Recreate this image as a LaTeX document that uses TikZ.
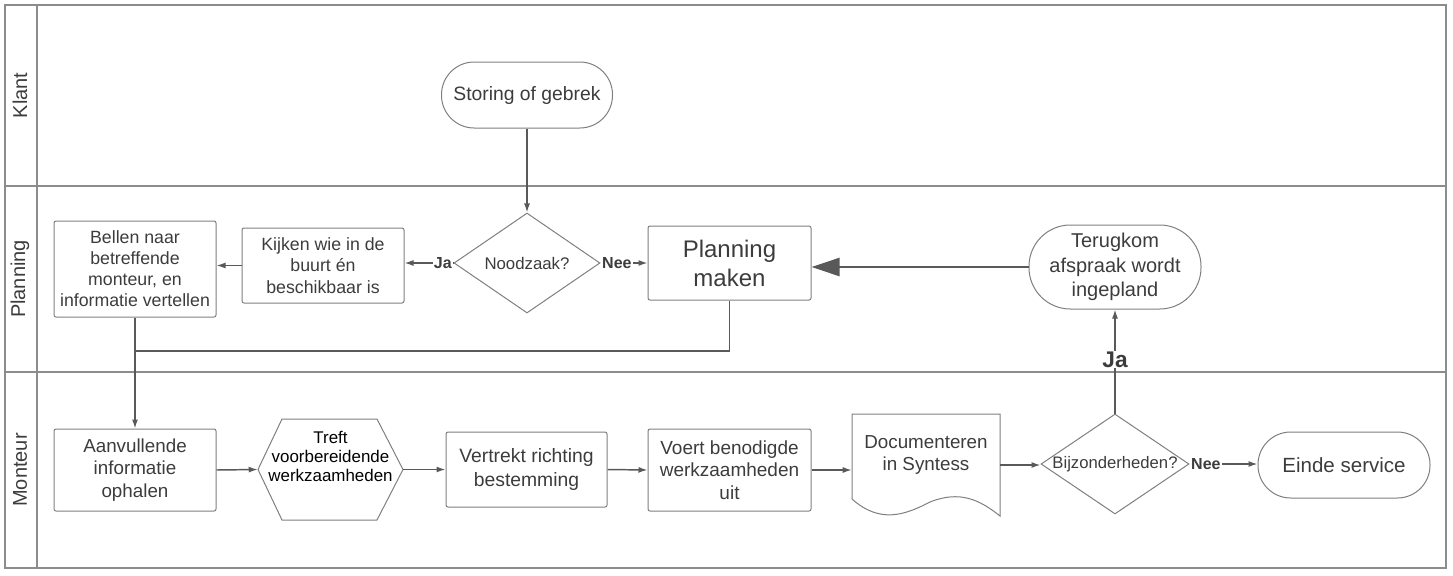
\documentclass[tikz,border=0pt]{standalone}
\usepackage{fontspec}
\setmainfont{Liberation Sans}
\usetikzlibrary{arrows.meta,shapes.geometric}
\definecolor{lanegray}{HTML}{8C8C8C}
\definecolor{shapegray}{HTML}{7F7F7F}
\definecolor{linegray}{HTML}{595959}
\definecolor{txtgray}{HTML}{3C3C3C}
\begin{document}
\begin{tikzpicture}[x=0.75pt,y=0.75pt,yscale=-1,xscale=1,
  lane/.style={draw=lanegray, line width=1pt},
  lanelbl/.style={rotate=90, text=txtgray, font=\fontsize{15}{18}\selectfont},
  box/.style={draw=shapegray, line width=0.75pt, rounded corners=1.5pt, text=txtgray, align=center, inner sep=0.75pt},
  stadium/.style={box, rounded corners=#1},
  decision/.style={diamond, draw=shapegray, line width=0.75pt, inner sep=0pt},
  conn/.style={draw=linegray, line width=1.1pt, -{Latex[length=6.75pt,width=4.5pt]}},
  bigconn/.style={draw=linegray, line width=1.9pt, -{Triangle[length=21pt,width=13.5pt]}},
  ja/.style={fill=white, inner sep=0.75pt, text=txtgray, font=\bfseries\fontsize{12}{14}\selectfont}
]
\useasboundingbox (0,0) rectangle (1453,575);

%Shape: Lanes
\draw[lane] (5,5) rectangle (1446,568);
\draw[lane] (37,5) -- (37,568);
\draw[lane] (5,186) -- (1446,186);
\draw[lane] (5,372) -- (1446,372);
% Text Node
\node[lanelbl] (klant) at (20,95.5) {Klant};
% Text Node
\node[lanelbl] (planninglane) at (20,279) {Planning};
% Text Node
\node[lanelbl] (monteur) at (20,470) {Monteur};

%Shape: Rounded Rect
\node[stadium=24.5pt, minimum width=128.25pt, minimum height=49.5pt, font=\fontsize{14.5}{17}\selectfont] (storing) at (527,95) {Storing of gebrek};
%Shape: Diamond
\node[decision, minimum width=109.5pt, minimum height=75pt, label={[text=txtgray, font=\fontsize{12.6}{15}\selectfont]center:Noodzaak?}] (noodzaak) at (527,263) {};
%Shape: Rectangle
\node[box, minimum width=121.5pt, minimum height=56.25pt, font=\fontsize{13.3}{16.2}\selectfont] (kijken) at (323,265.5) {Kijken wie in de\\buurt én\\beschikbaar is};
%Shape: Rectangle
\node[box, minimum width=121.5pt, minimum height=72pt, font=\fontsize{13.3}{15.8}\selectfont] (bellen) at (135,269) {Bellen naar\\betreffende\\monteur, en\\informatie vertellen};
%Shape: Rectangle
\node[box, minimum width=122.25pt, minimum height=55.5pt, font=\fontsize{18}{21.75}\selectfont] (planning) at (729.5,263) {Planning\\maken};
%Shape: Rounded Rect
\node[stadium=31pt, minimum width=129pt, minimum height=63pt, font=\fontsize{15}{18.4}\selectfont] (terug) at (1115,267) {Terugkom\\afspraak wordt\\ingepland};

%Shape: Rectangle
\node[box, minimum width=121.5pt, minimum height=61.5pt, font=\fontsize{14.1}{16.9}\selectfont] (aanv) at (135,470) {Aanvullende\\informatie\\ophalen};
%Shape: Hexagon
\draw[draw=shapegray, line width=0.75pt] (258,469.5) -- (282,419) -- (377,419) -- (403,469.5) -- (377,520) -- (282,520) -- cycle;
\node[minimum width=108.75pt, minimum height=75.75pt, inner sep=0pt] (treft) at (330.5,469.5) {};
% Text Node
\node[align=center, text=black, inner sep=0.75pt, font=\fontsize{12.7}{14.25}\selectfont] (treftlbl) at (330.5,456) {Treft\\voorbereidende\\werkzaamheden};
%Shape: Rectangle
\node[box, minimum width=120.75pt, minimum height=56.25pt, font=\fontsize{14.5}{18}\selectfont] (vertrekt) at (526.5,469.5) {Vertrekt richting\\bestemming};
%Shape: Rectangle
\node[box, minimum width=122.25pt, minimum height=61.5pt, font=\fontsize{14.25}{16.9}\selectfont] (voert) at (729.5,470) {Voert benodigde\\werkzaamheden\\uit};
%Shape: Document
\draw[draw=shapegray, line width=0.75pt] (852,414) -- (1000,414) -- (1000,516) .. controls (980,500) and (960,490) .. (930,502) .. controls (905,515) and (880,524) .. (852,499) -- cycle;
\node[minimum width=111pt, minimum height=76.5pt, inner sep=0pt] (doc) at (926,465) {};
% Text Node
\node[align=center, text=txtgray, inner sep=0.75pt, font=\fontsize{14.1}{17}\selectfont] (doclbl) at (926,455) {Documenteren\\in Syntess};
%Shape: Diamond
\node[decision, minimum width=111pt, minimum height=75pt, label={[text=txtgray, font=\fontsize{12.5}{15}\selectfont]center:Bijzonderheden?}] (bij) at (1115,464) {};
%Shape: Rounded Rect
\node[stadium=24.5pt, minimum width=129pt, minimum height=49.5pt, font=\fontsize{15.4}{18}\selectfont] (einde) at (1344,465) {Einde service};

%Straight Lines
\draw[conn] (storing) -- (noodzaak);
\draw[conn] (noodzaak.west) -- (noodzaak.west -| kijken.east) node[ja, anchor=east, pos=0] (janood) {Ja};
\draw[conn] (kijken.west) -- (kijken.west -| bellen.east);
\draw[conn] (noodzaak.east) -- (planning.west) node[ja, anchor=west, pos=0] (neenood) {Nee};
\draw[bigconn] (terug.west) -- (terug.west -| planning.east);
\coordinate (join) at (135,351);
\draw[draw=linegray, line width=1.1pt] (planning.south) |- (join);
\draw[conn] (bellen.south) -- (aanv.north);
\draw[conn] (aanv.east) -- (treft.west);
\draw[conn] (treft.east) -- (vertrekt.west);
\draw[conn] (vertrekt.east) -- (voert.west);
\draw[conn] (voert.east) -- (voert.east -| doc.west);
\draw[conn] (doc.east) -- (doc.east -| bij.west);
\draw[conn] (bij.east) -- (bij.east -| einde.west) node[ja, anchor=west, pos=0] (neebij) {Nee};
\draw[conn] (bij.north) -- (terug.south) node[ja, pos=0.52, font=\bfseries\fontsize{17}{20}\selectfont] (jabij) {Ja};

\end{tikzpicture}
\end{document}
